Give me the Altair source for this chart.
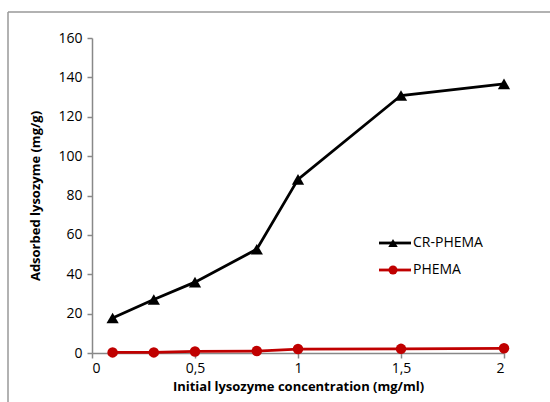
import altair as alt
import pandas as pd

conc = [0.1, 0.3, 0.5, 0.8, 1.0, 1.5, 2.0]
cr_phema = [17.8, 27.2, 36.0, 52.7, 88.2, 130.8, 136.7]
phema = [0.3, 0.3, 0.8, 1.0, 2.0, 2.1, 2.4]
series = ["CR-PHEMA", "PHEMA"]
colors = ["#000000", "#C00000"]
shapes = ["triangle-up", "circle"]
x_ticks = [0, 0.5, 1, 1.5, 2]
y_ticks = [0, 20, 40, 60, 80, 100, 120, 140, 160]

rows = []
for s, vals in zip(series, [cr_phema, phema]):
    for c, v in zip(conc, vals):
        rows.append({"series": s, "conc": c, "ads": v})
df = pd.DataFrame(rows)

FONT = "Open Sans"

x = alt.X("conc:Q", title="Initial lysozyme concentration (mg/ml)",
          scale=alt.Scale(domain=[0, 2], nice=False),
          axis=alt.Axis(values=x_ticks,
                        labelExpr="replace(format(datum.value, '~g'), '.', ',')",
                        grid=False, tickSize=5, labelPadding=3, titlePadding=5))
y = alt.Y("ads:Q", title="Adsorbed lysozyme (mg/g)",
          scale=alt.Scale(domain=[0, 160], nice=False),
          axis=alt.Axis(values=y_ticks, grid=False, tickSize=5, labelPadding=5, titlePadding=15))

color = alt.Color("series:N", scale=alt.Scale(domain=series, range=colors), legend=None)
shape = alt.Shape("series:N", scale=alt.Scale(domain=series, range=shapes), legend=None)
size = alt.Size("series:N", scale=alt.Scale(domain=series, range=[150, 110]), legend=None)

lines = alt.Chart(df).mark_line(strokeWidth=2.8).encode(x=x, y=y, color=color, detail="series:N")
points = alt.Chart(df).mark_point(filled=True, opacity=1).encode(
    x=x, y=y, color=color, shape=shape, size=size)

layers = [lines, points]

# manual legend (inside plot)
leg_y = [205, 232]
leg_sizes = [90, 80]
for s, c, sh, ly, sz in zip(series, colors, shapes, leg_y, leg_sizes):
    ldf = pd.DataFrame({"series": [s]})
    base = alt.Chart(ldf)
    layers.append(base.mark_rule(color=c, strokeWidth=2.8).encode(
        x=alt.value(287), x2=alt.value(319), y=alt.value(ly)))
    layers.append(base.mark_point(filled=True, size=sz, opacity=1, color=c, shape=sh).encode(
        x=alt.value(301), y=alt.value(ly)))
    layers.append(base.mark_text(align="left", baseline="middle", font=FONT, fontSize=14,
                                 color="#000000").encode(
        x=alt.value(321), y=alt.value(ly), text="series:N"))

# outer frame (partial border)
fdf = pd.DataFrame({"k": [0]})
frame_top = alt.Chart(fdf).mark_rule(color="#999999", strokeWidth=1.5).encode(
    x=alt.value(-84), x2=alt.value(460), y=alt.value(-26))
frame_left = alt.Chart(fdf).mark_rule(color="#999999", strokeWidth=1.5).encode(
    x=alt.value(-84), y=alt.value(-26), y2=alt.value(370))
layers += [frame_top, frame_left]

chart = alt.layer(*layers).properties(
    width=412, height=315,
    autosize=alt.AutoSizeParams(type="none"),
    padding={"left": 92, "top": 38, "right": 46, "bottom": 49},
    background="white",
).configure_view(stroke=None).configure_axis(
    domainColor="#888888", tickColor="#888888", domainWidth=1.5, tickWidth=1.5,
    labelFont=FONT, labelFontSize=14, labelColor="#000000",
    titleFont=FONT, titleFontSize=13, titleFontWeight="bold", titleColor="#000000",
)

chart.save("out.html", embed_options={"renderer": "svg", "actions": False})
